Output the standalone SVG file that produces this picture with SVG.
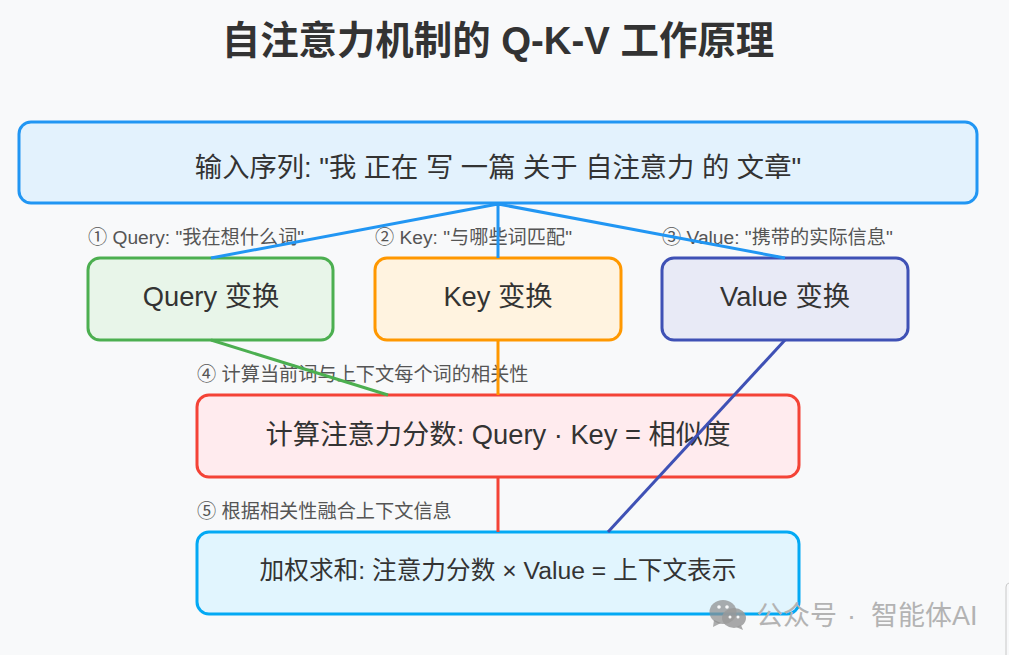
<svg xmlns="http://www.w3.org/2000/svg" width="1009" height="655" viewBox="0 0 1009 655">
<style>
text{font-family:"Liberation Sans","Noto Sans CJK SC",sans-serif;text-anchor:middle;fill:#333}
.title{font-size:38.400px;font-weight:700}
.big{font-size:27.300px}
.mid{font-size:24.700px}
.note{font-size:19.200px;fill:#555;text-anchor:start}
.wm{font-size:27px;fill:#b3b3b3;text-anchor:start}
.box{stroke-width:3}
.conn{fill:none;stroke-width:3}
</style>
<rect width="1009" height="655" fill="#f8f9fa"/>
<text class="title" x="498" y="54">自注意力机制的 Q-K-V 工作原理</text>
<g id="input"><rect class="box" x="19" y="122" width="958" height="81" rx="12" fill="#e3f2fd" stroke="#2196f3"/><text class="big" x="498" y="177">输入序列: "我 正在 写 一篇 关于 自注意力 的 文章"</text></g>
<g id="note1"><text class="note" x="88" y="244">① Query: "我在想什么词"</text></g>
<g id="note2"><text class="note" x="375" y="244">② Key: "与哪些词匹配"</text></g>
<g id="note3"><text class="note" x="662" y="244">③ Value: "携带的实际信息"</text></g>
<g id="query"><rect class="box" x="88" y="258" width="245" height="82" rx="12" fill="#e8f5e9" stroke="#4caf50"/><text class="big" x="211" y="306">Query 变换</text></g>
<g id="key"><rect class="box" x="375" y="258" width="246" height="82" rx="12" fill="#fff3e0" stroke="#ff9800"/><text class="big" x="498" y="306">Key 变换</text></g>
<g id="value"><rect class="box" x="662" y="258" width="246" height="82" rx="12" fill="#e8eaf6" stroke="#3f51b5"/><text class="big" x="785" y="306">Value 变换</text></g>
<g id="note4"><text class="note" x="197" y="381">④ 计算当前词与上下文每个词的相关性</text></g>
<g id="score"><rect class="box" x="197" y="395" width="602" height="82" rx="12" fill="#ffebee" stroke="#f44336"/><text class="big" x="498" y="444">计算注意力分数: Query · Key = 相似度</text></g>
<g id="note5"><text class="note" x="197" y="518">⑤ 根据相关性融合上下文信息</text></g>
<g id="sum"><rect class="box" x="197" y="532" width="602" height="82" rx="12" fill="#e1f5fe" stroke="#03a9f4"/><text class="mid" x="498" y="579">加权求和: 注意力分数 × Value = 上下文表示</text></g>
<g id="connectors">
<path class="conn" stroke="#2196f3" d="M498 204L211 258M498 204V258M498 204L785 258"/>
<path class="conn" stroke="#4caf50" d="M211 340L388 395"/>
<path class="conn" stroke="#ff9800" d="M498 340V395"/>
<path class="conn" stroke="#3f51b5" d="M785 340L608 532"/>
<path class="conn" stroke="#f44336" d="M498 477V532"/>
</g>
<g id="watermark">
<g fill="#8f8f8f" fill-opacity=".72"><ellipse cx="723" cy="612" rx="13.500" ry="12"/><path d="M714 620l-1 7 8-4z"/></g>
<g fill="#9a9a9a" fill-opacity=".85"><ellipse cx="734" cy="618" rx="12" ry="10"/><path d="M741 625l2 5-7-3z"/></g>
<g fill="#f8f9fa"><circle cx="719" cy="607" r="1.800"/><circle cx="727" cy="607" r="1.800"/><circle cx="730" cy="617" r="1.500"/><circle cx="738" cy="617" r="1.500"/></g>
<text class="wm" x="756" y="625">公众号</text><text class="wm" x="847" y="625">·</text><text class="wm" x="871" y="625">智能体AI</text>
</g>
<path d="M1009 583a4 4 0 0 0-3 4V655" fill="none" stroke="#c8c8c8"/>
</svg>
